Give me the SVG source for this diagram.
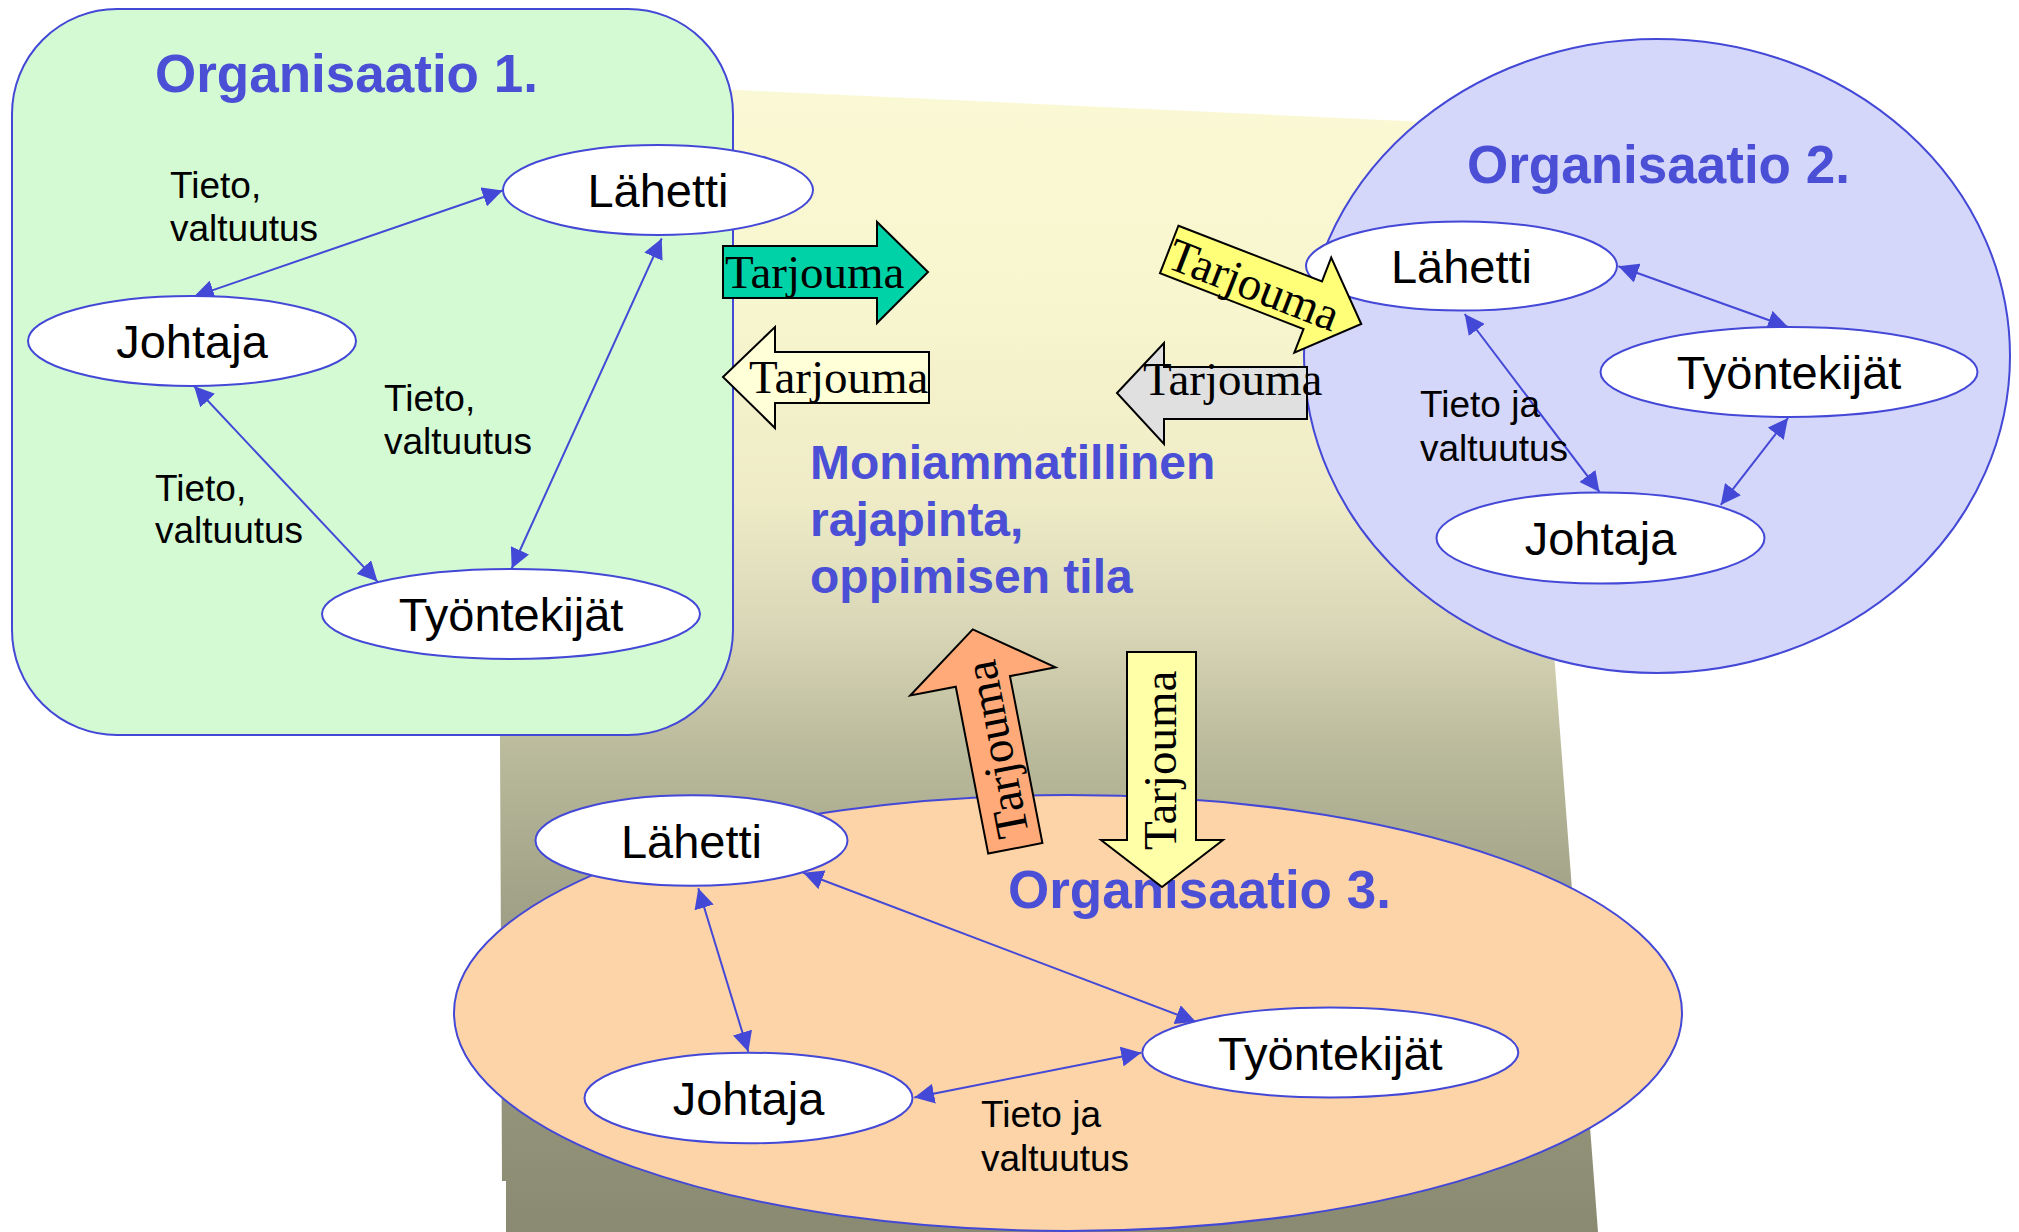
<svg xmlns="http://www.w3.org/2000/svg" width="2019" height="1232" viewBox="0 0 2019 1232">
<defs>
<linearGradient id="bg" gradientUnits="userSpaceOnUse" x1="0" y1="80" x2="0" y2="1232">
<stop offset="0" stop-color="#FAF9D5"/>
<stop offset="0.19" stop-color="#F8F6CE"/>
<stop offset="0.365" stop-color="#EEEBC6"/>
<stop offset="0.469" stop-color="#DAD8B8"/>
<stop offset="0.59" stop-color="#B8B89A"/>
<stop offset="0.712" stop-color="#A2A288"/>
<stop offset="1" stop-color="#8A8A72"/>
</linearGradient>
<marker id="ah" viewBox="0 0 20 20" markerWidth="20" markerHeight="20" refX="20" refY="10" markerUnits="userSpaceOnUse" orient="auto-start-reverse">
<path d="M0,0 L20,10 L0,20 z" fill="#4448D6"/>
</marker>
<style>
.org{stroke:#4448D6;stroke-width:2}
.node{fill:#FFFFFF;stroke:#4448D6;stroke-width:2}
.ntxt{font-family:"Liberation Sans",Arial,sans-serif;font-size:47px;fill:#000;text-anchor:middle}
.title{font-family:"Liberation Sans",Arial,sans-serif;font-size:53px;font-weight:bold;fill:#4A4FD6}
.center{font-family:"Liberation Sans",Arial,sans-serif;font-size:48px;font-weight:bold;fill:#4A4FD6}
.lbl{font-family:"Liberation Sans",Arial,sans-serif;font-size:37px;fill:#000}
.conn line{stroke:#4448D6;stroke-width:2;marker-start:url(#ah);marker-end:url(#ah)}
.tarr{stroke:#000;stroke-width:2;stroke-linejoin:miter}
.ttxt{font-family:"Liberation Serif","Times New Roman",serif;font-size:47px;fill:#000}
</style>
</defs>

<polygon id="background" points="497,79 1514,126 1598,1232 506,1232 506,1181 502,1181" fill="url(#bg)"/>

<g id="org1">
<rect x="12" y="9" width="721" height="726" rx="105" ry="105" class="org" fill="#D4FAD4"/>
<text class="title" x="155" y="92">Organisaatio 1.</text>
</g>
<g id="org2">
<ellipse cx="1657" cy="356" rx="353" ry="317" class="org" fill="#D4D6FA"/>
<text class="title" x="1467" y="183">Organisaatio 2.</text>
</g>
<g id="org3">
<ellipse cx="1068" cy="1013" rx="614" ry="218" class="org" fill="#FCD4A8"/>
<text class="title" x="1008" y="908">Organisaatio 3.</text>
</g>

<g id="interface-label">
<text class="center" x="810" y="479">Moniammatillinen</text>
<text class="center" x="810" y="536">rajapinta,</text>
<text class="center" x="810" y="593">oppimisen tila</text>
</g>

<g id="connectors" class="conn">
<line x1="502.6" y1="190.5" x2="194" y2="296.6"/>
<line x1="194" y1="386" x2="377.5" y2="581.6"/>
<line x1="661.7" y1="238.5" x2="511.7" y2="568.5"/>
<line x1="1618.4" y1="266.3" x2="1788" y2="327"/>
<line x1="1464.7" y1="314" x2="1599.5" y2="491.9"/>
<line x1="1788" y1="418" x2="1720.7" y2="504.9"/>
<line x1="698.3" y1="888.3" x2="748.3" y2="1051.7"/>
<line x1="803.3" y1="872.7" x2="1195.8" y2="1021.7"/>
<line x1="914.3" y1="1097.5" x2="1141.3" y2="1052.7"/>
</g>

<g id="labels">
<text class="lbl" x="170" y="198">Tieto,</text>
<text class="lbl" x="170" y="241">valtuutus</text>
<text class="lbl" x="384" y="411">Tieto,</text>
<text class="lbl" x="384" y="454">valtuutus</text>
<text class="lbl" x="155" y="501">Tieto,</text>
<text class="lbl" x="155" y="543">valtuutus</text>
<text class="lbl" x="1420" y="417">Tieto ja</text>
<text class="lbl" x="1420" y="461">valtuutus</text>
<text class="lbl" x="981" y="1127">Tieto ja</text>
<text class="lbl" x="981" y="1171">valtuutus</text>
</g>

<g id="org1-lahetti"><ellipse class="node" cx="658" cy="190" rx="155" ry="45"/><text class="ntxt" x="658" y="207">Lähetti</text></g>
<g id="org1-johtaja"><ellipse class="node" cx="192" cy="341" rx="164" ry="45"/><text class="ntxt" x="192" y="358">Johtaja</text></g>
<g id="org1-tyontekijat"><ellipse class="node" cx="511" cy="614" rx="189" ry="45"/><text class="ntxt" x="511" y="631">Työntekijät</text></g>

<g id="org2-lahetti"><ellipse class="node" cx="1461.5" cy="266" rx="155.5" ry="44.5"/><text class="ntxt" x="1461.5" y="283">Lähetti</text></g>
<g id="org2-tyontekijat"><ellipse class="node" cx="1789" cy="372" rx="188.5" ry="45"/><text class="ntxt" x="1789" y="389">Työntekijät</text></g>
<g id="org2-johtaja"><ellipse class="node" cx="1600.5" cy="538" rx="164" ry="45.5"/><text class="ntxt" x="1600.5" y="555">Johtaja</text></g>

<g id="org3-lahetti"><ellipse class="node" cx="691.5" cy="840.5" rx="156" ry="45.3"/><text class="ntxt" x="691.5" y="857.5">Lähetti</text></g>
<g id="org3-johtaja"><ellipse class="node" cx="748.5" cy="1098" rx="164" ry="45.3"/><text class="ntxt" x="748.5" y="1115">Johtaja</text></g>
<g id="org3-tyontekijat"><ellipse class="node" cx="1330.3" cy="1052.5" rx="188" ry="45"/><text class="ntxt" x="1330.3" y="1069.5">Työntekijät</text></g>

<g id="tarjouma-green">
<polygon class="tarr" fill="#00D2A8" points="723,246 877,246 877,222 928,272 877,323 877,298 723,298"/>
<text class="ttxt" x="725" y="287.5">Tarjouma</text>
</g>
<g id="tarjouma-cream">
<polygon class="tarr" fill="#FFFFD8" points="723,377 775,327 775,352 929,352 929,403 775,403 775,428"/>
<text class="ttxt" x="749" y="393">Tarjouma</text>
</g>
<g id="tarjouma-gray">
<polygon class="tarr" fill="#E0E0E0" points="1117,393 1164,343 1164,367 1307,367 1307,419 1164,419 1164,444"/>
<text class="ttxt" x="1143" y="395">Tarjouma</text>
</g>
<g id="tarjouma-yellow" transform="translate(1169.2,249.5) rotate(21.2)">
<polygon class="tarr" fill="#FFFF78" points="0,-25.5 154,-25.5 154,-51 206,0 154,51 154,25.5 0,25.5"/>
<text class="ttxt" x="2" y="18">Tarjouma</text>
</g>
<g id="tarjouma-orange" transform="translate(1015.3,848.3) rotate(-101)">
<polygon class="tarr" fill="#FFAA78" points="0,-27.6 170,-27.6 170,-74 223,0 170,74 170,27.6 0,27.6"/>
<text class="ttxt" x="11" y="16">Tarjouma</text>
</g>
<g id="tarjouma-down">
<polygon class="tarr" fill="#FFFFA8" points="1127,652 1196,652 1196,840 1223,840 1162,887 1101,840 1127,840"/>
<text class="ttxt" transform="translate(1176,850) rotate(-90)">Tarjouma</text>
</g>
</svg>
